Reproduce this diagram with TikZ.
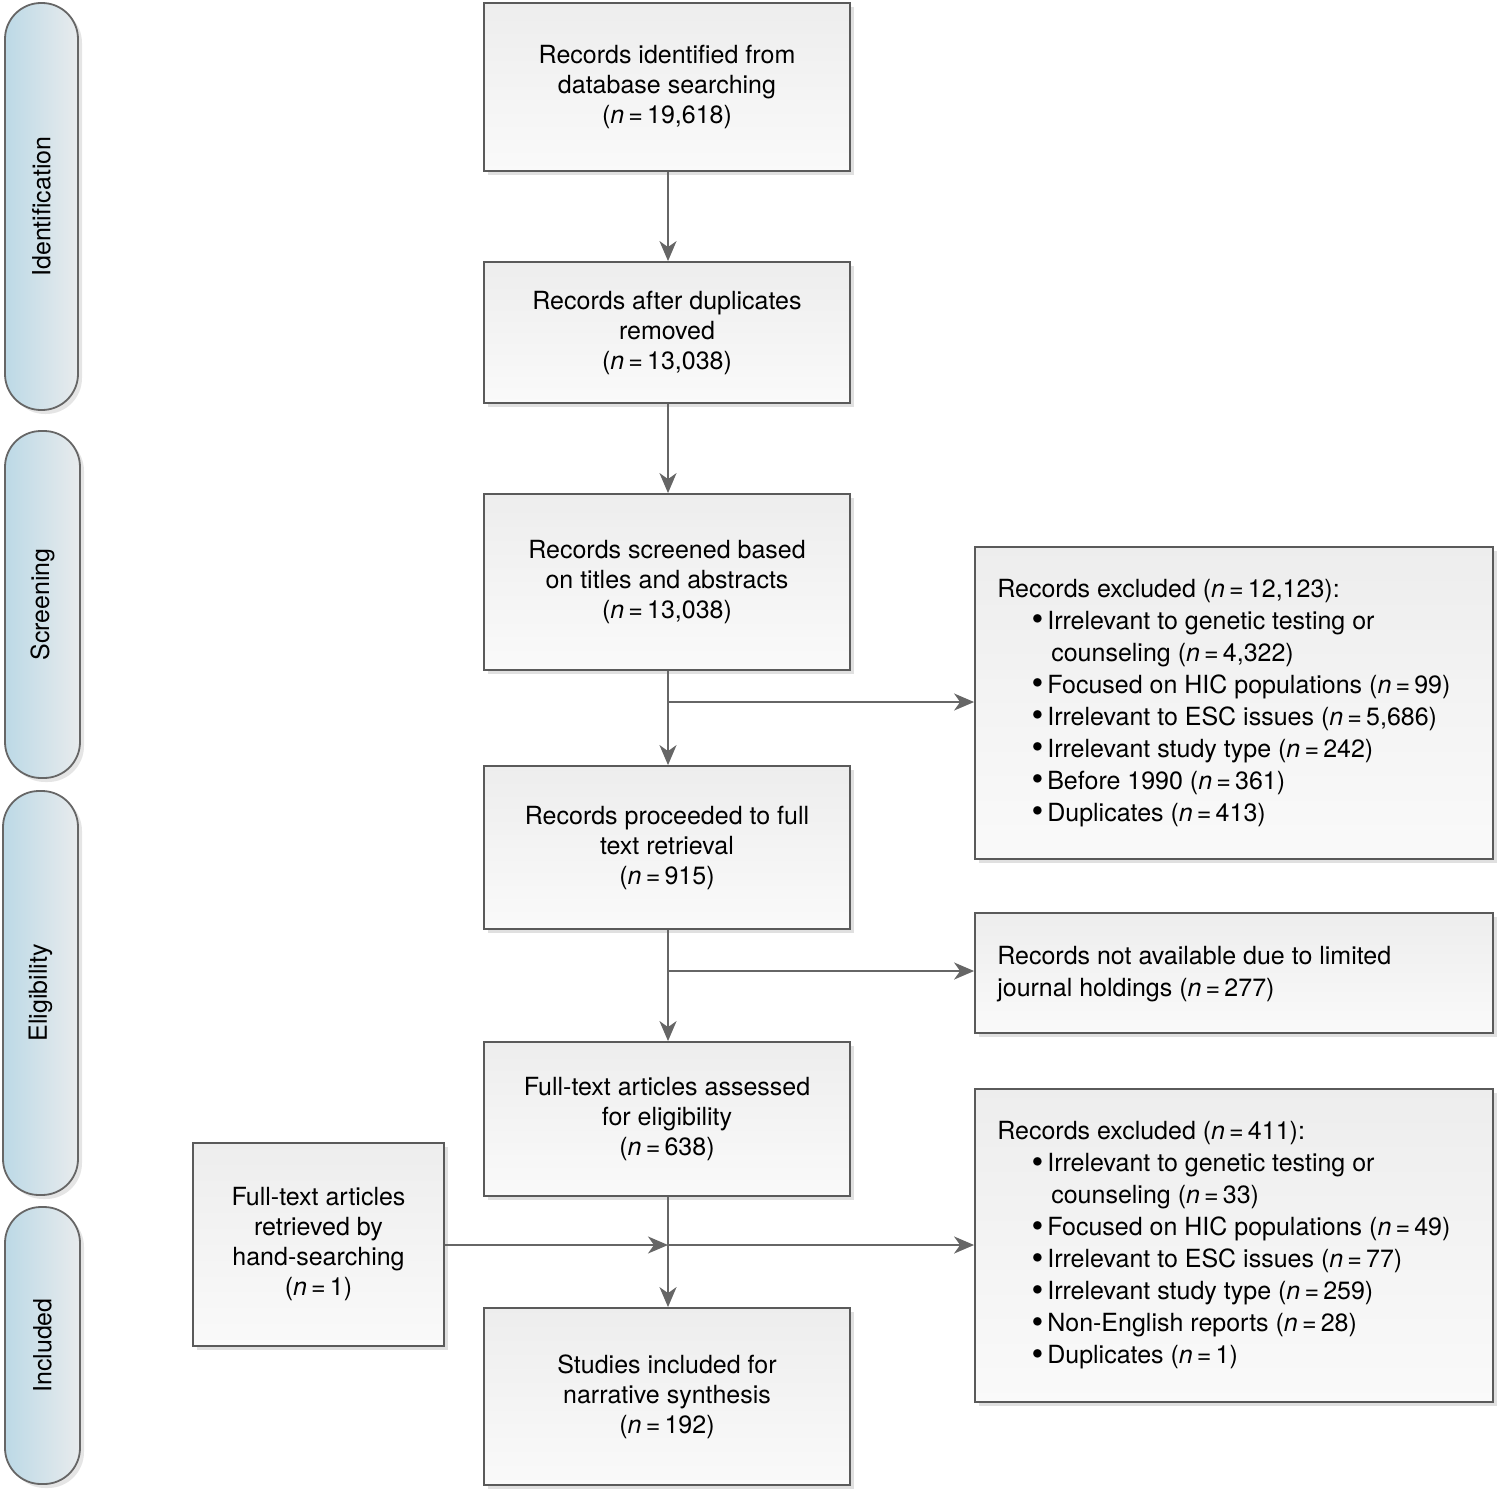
\documentclass[tikz,border=0pt]{standalone}
\usepackage{fontspec}
\setmainfont{TeX Gyre Heros}
\usepackage{graphicx}
\usetikzlibrary{arrows.meta,shadows,calc}
\definecolor{boxline}{HTML}{5A5A5A}
\definecolor{arrowc}{HTML}{666666}
\definecolor{sideL}{HTML}{BCD9E6}
\definecolor{sideR}{HTML}{E8EBED}
\newcommand{\nn}[1]{(\textit{n}\,=\,#1)}
\newcommand{\itm}{\par\hspace*{50pt}\llap{\raisebox{-1.6pt}{\scalebox{1.35}{\textbullet}}\hspace{4pt}}}
\tikzset{
  flowbox/.style={draw=boxline, line width=1.8pt, top color=black!7, bottom color=black!2,
    inner sep=0pt, align=center, font=\fontsize{25}{30}\selectfont,
    drop shadow={shadow xshift=4pt, shadow yshift=-4pt, fill=black!12, opacity=1}},
  sidebox/.style={draw=black!60, line width=1.8pt, rounded corners=36pt, left color=sideL, right color=sideR,
    inner sep=0pt, font=\fontsize{25}{30}\selectfont,
    drop shadow={shadow xshift=4pt, shadow yshift=-4pt, fill=black!10, opacity=1}},
  listtext/.style={anchor=west, align=left, inner sep=0pt, font=\fontsize{25}{32}\selectfont},
  flow/.style={draw=arrowc, line width=2pt, -{Stealth[length=20pt,width=17pt,inset=6pt]}}
}
\begin{document}
\begin{tikzpicture}[x=1pt,y=-1pt]
\useasboundingbox (0,0) rectangle (1499,1490);
% side labels
\node[sidebox, minimum width=73pt, minimum height=407pt] (sid) at (41.5,206.5) {\rotatebox{90}{Identification}};
\node[sidebox, minimum width=75pt, minimum height=347pt] (sscr) at (42.5,604.5) {\rotatebox{90}{Screening}};
\node[sidebox, minimum width=75pt, minimum height=404pt] (selig) at (40.5,993) {\rotatebox{90}{Eligibility}};
\node[sidebox, minimum width=75pt, minimum height=277pt] (sinc) at (42.5,1345.5) {\rotatebox{90}{Included}};
% main boxes
\node[flowbox, minimum width=366pt, minimum height=168pt] (a) at (667,87) {Records identified from\\database searching\\\nn{19,618}};
\node[flowbox, minimum width=366pt, minimum height=141pt] (b) at (667,332.5) {Records after duplicates\\removed\\\nn{13,038}};
\node[flowbox, minimum width=366pt, minimum height=176pt] (c) at (667,582) {Records screened based\\on titles and abstracts\\\nn{13,038}};
\node[flowbox, minimum width=366pt, minimum height=163pt] (d) at (667,847.5) {Records proceeded to full\\text retrieval\\\nn{915}};
\node[flowbox, minimum width=366pt, minimum height=154pt] (e) at (667,1119) {Full-text articles assessed\\for eligibility\\\nn{638}};
\node[flowbox, minimum width=366pt, minimum height=177pt] (f) at (667,1396.5) {Studies included for\\narrative synthesis\\\nn{192}};
\node[flowbox, minimum width=251pt, minimum height=203pt] (h) at (318.5,1244.5) {Full-text articles\\retrieved by\\hand-searching\\\nn{1}};
% side boxes
\node[flowbox, minimum width=518pt, minimum height=312pt] (x1) at (1234,703) {};
\node[flowbox, minimum width=518pt, minimum height=120pt] (na) at (1234,973) {};
\node[flowbox, minimum width=518pt, minimum height=313pt] (x2) at (1234,1245.5) {};
\node[listtext] (x1t) at ($(x1.west)+(23,0)$) {\parbox{480pt}{Records excluded \nn{12,123}:%
\itm Irrelevant to genetic testing or\par\hspace*{54pt}counseling \nn{4,322}%
\itm Focused on HIC populations \nn{99}%
\itm Irrelevant to ESC issues \nn{5,686}%
\itm Irrelevant study type \nn{242}%
\itm Before 1990 \nn{361}%
\itm Duplicates \nn{413}}};
\node[listtext] (nat) at ($(na.west)+(23,1)$) {Records not available due to limited\\journal holdings \nn{277}};
\node[listtext] (x2t) at ($(x2.west)+(23,0)$) {\parbox{480pt}{Records excluded \nn{411}:%
\itm Irrelevant to genetic testing or\par\hspace*{54pt}counseling \nn{33}%
\itm Focused on HIC populations \nn{49}%
\itm Irrelevant to ESC issues \nn{77}%
\itm Irrelevant study type \nn{259}%
\itm Non-English reports \nn{28}%
\itm Duplicates \nn{1}}};
% connectors
\coordinate (j1) at (668,702);
\coordinate (j2) at (668,971);
\coordinate (j3) at (668,1245);
\draw[flow] (a.south -| 668,0) -- (b.north -| 668,0);
\draw[flow] (b.south -| 668,0) -- (c.north -| 668,0);
\draw[flow] (c.south -| 668,0) -- (d.north -| 668,0);
\draw[flow] (d.south -| 668,0) -- (e.north -| 668,0);
\draw[flow] (e.south -| 668,0) -- (f.north -| 668,0);
\draw[flow] (j1) -- (x1.west |- j1);
\draw[flow] (j2) -- (na.west |- j2);
\draw[flow] (h.east |- j3) -- (j3);
\draw[flow] (j3) -- (x2.west |- j3);
\end{tikzpicture}
\end{document}
